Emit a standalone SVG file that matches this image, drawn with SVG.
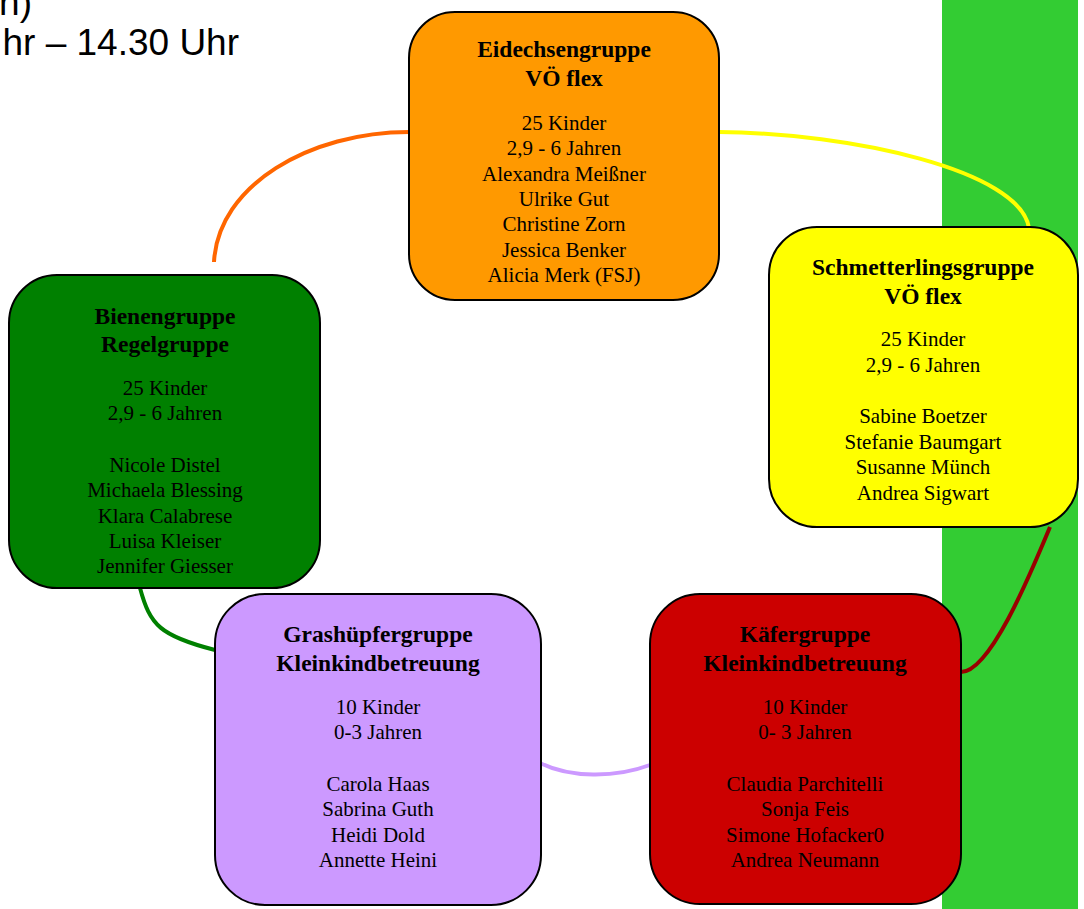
<svg xmlns="http://www.w3.org/2000/svg" width="1084" height="909" viewBox="0 0 1084 909">
<style>
.box{stroke:#000;stroke-width:2}
.t{font-family:"Liberation Serif","Times New Roman",serif;font-weight:bold;font-size:23.5px;text-anchor:middle;fill:#000}
.b{font-family:"Liberation Serif","Times New Roman",serif;font-size:21px;text-anchor:middle;fill:#000}
.hd{font-family:"Liberation Sans",Arial,sans-serif;font-size:37px;fill:#000;text-anchor:end}
.c{fill:none;stroke-width:4;stroke-linecap:butt}
</style>
<rect x="0" y="0" width="1084" height="909" fill="#fff"/>
<rect x="942" y="0" width="136" height="909" fill="#33CC33"/>
<text class="hd" x="32" y="15">n)</text>
<text class="hd" x="239" y="55">hr – 14.30 Uhr</text>
<g id="connectors">
<path class="c" stroke="#FF6600" d="M 409 132 C 310 132, 218 185, 214 262"/>
<path class="c" stroke="#FFFF00" d="M 719 132 C 850 133, 1020 170, 1029 228"/>
<path class="c" stroke="#990000" d="M 1050 527 C 1030 575, 990 672, 961 672"/>
<path class="c" stroke="#008000" d="M 140 588 C 150 625, 160 636, 215 650"/>
<path class="c" stroke="#CC99FF" d="M 540 763 C 570 778, 615 778, 650 765"/>
</g>
<g id="eidechsen">
<rect class="box" x="409" y="12" width="310" height="288" rx="46" fill="#FF9900"/>
<text class="t" x="564" y="57">Eidechsengruppe</text>
<text class="t" x="564" y="86">VÖ flex</text>
<text class="b" x="564" y="130">25 Kinder</text>
<text class="b" x="564" y="155">2,9 - 6 Jahren</text>
<text class="b" x="564" y="181">Alexandra Meißner</text>
<text class="b" x="564" y="206">Ulrike Gut</text>
<text class="b" x="564" y="231">Christine Zorn</text>
<text class="b" x="564" y="257">Jessica Benker</text>
<text class="b" x="564" y="282">Alicia Merk (FSJ)</text>
</g>
<g id="schmetterling">
<rect class="box" x="769" y="227" width="309" height="300" rx="48" fill="#FFFF00"/>
<text class="t" x="923" y="275">Schmetterlingsgruppe</text>
<text class="t" x="923" y="304">VÖ flex</text>
<text class="b" x="923" y="346">25 Kinder</text>
<text class="b" x="923" y="372">2,9 - 6 Jahren</text>
<text class="b" x="923" y="423">Sabine Boetzer</text>
<text class="b" x="923" y="449">Stefanie Baumgart</text>
<text class="b" x="923" y="474">Susanne Münch</text>
<text class="b" x="923" y="500">Andrea Sigwart</text>
</g>
<g id="bienen">
<rect class="box" x="9" y="275" width="311" height="313" rx="48" fill="#008000"/>
<text class="t" x="165" y="324">Bienengruppe</text>
<text class="t" x="165" y="352">Regelgruppe</text>
<text class="b" x="165" y="395">25 Kinder</text>
<text class="b" x="165" y="420">2,9 - 6 Jahren</text>
<text class="b" x="165" y="472">Nicole Distel</text>
<text class="b" x="165" y="497">Michaela Blessing</text>
<text class="b" x="165" y="523">Klara Calabrese</text>
<text class="b" x="165" y="548">Luisa Kleiser</text>
<text class="b" x="165" y="573">Jennifer Giesser</text>
</g>
<g id="grashuepfer">
<rect class="box" x="215" y="594" width="326" height="311" rx="50" fill="#CC99FF"/>
<text class="t" x="378" y="642">Grashüpfergruppe</text>
<text class="t" x="378" y="671">Kleinkindbetreuung</text>
<text class="b" x="378" y="714">10 Kinder</text>
<text class="b" x="378" y="739">0-3 Jahren</text>
<text class="b" x="378" y="791">Carola Haas</text>
<text class="b" x="378" y="816">Sabrina Guth</text>
<text class="b" x="378" y="842">Heidi Dold</text>
<text class="b" x="378" y="867">Annette Heini</text>
</g>
<g id="kaefer">
<rect class="box" x="650" y="594" width="311" height="310" rx="50" fill="#CC0000"/>
<text class="t" x="805" y="642">Käfergruppe</text>
<text class="t" x="805" y="671">Kleinkindbetreuung</text>
<text class="b" x="805" y="714">10 Kinder</text>
<text class="b" x="805" y="739">0- 3 Jahren</text>
<text class="b" x="805" y="791">Claudia Parchitelli</text>
<text class="b" x="805" y="816">Sonja Feis</text>
<text class="b" x="805" y="842">Simone Hofacker0</text>
<text class="b" x="805" y="867">Andrea Neumann</text>
</g>
</svg>
